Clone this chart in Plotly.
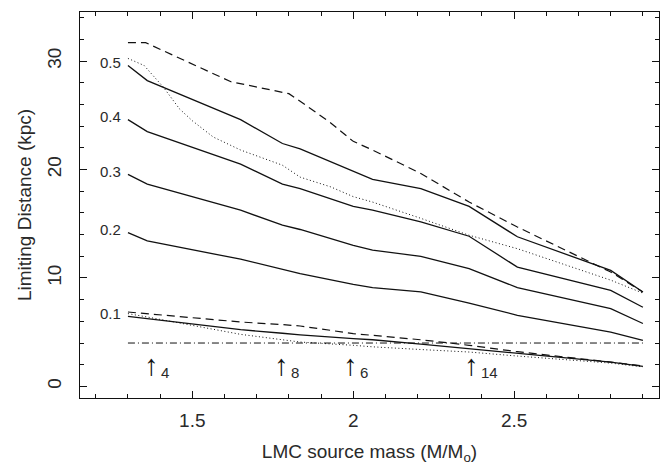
import plotly.graph_objects as go

# shared mass grid for the solid curves
mass = [1.30, 1.36, 1.65, 1.78, 1.835, 2.00, 2.06, 2.21, 2.36, 2.51, 2.80, 2.90]

solid_05 = [29.6, 28.2, 24.6, 22.4, 21.9, 19.8, 19.1, 18.25, 16.6, 13.8, 10.7, 8.7]
solid_04 = [24.6, 23.5, 20.5, 18.65, 18.25, 16.6, 16.25, 15.17, 13.85, 11.0, 8.86, 7.3]
solid_03 = [19.55, 18.65, 16.25, 14.87, 14.47, 13.0, 12.56, 12.0, 10.87, 9.11, 7.17, 5.8]
solid_02 = [14.19, 13.42, 11.73, 10.77, 10.4, 9.4, 9.11, 8.71, 7.69, 6.56, 5.01, 4.25]
solid_01 = [6.46, 6.25, 5.23, 4.9, 4.75, 4.4, 4.3, 3.9, 3.48, 3.0, 2.24, 1.85]
solid_labels = ["0.5", "0.4", "0.3", "0.2", "0.1"]

upper_dashed_x = [1.30, 1.355, 1.62, 1.80, 1.835, 1.93, 2.00, 2.06, 2.21, 2.36, 2.51, 2.80, 2.90]
upper_dashed_y = [31.7, 31.7, 28.1, 27.0, 26.3, 24.3, 22.6, 21.8, 19.64, 17.0, 14.7, 10.55, 8.7]

upper_dotted_x = [1.30, 1.35, 1.41, 1.46, 1.50, 1.565, 1.65, 1.78, 1.835, 1.93, 2.00, 2.06, 2.21, 2.36, 2.51, 2.80, 2.90]
upper_dotted_y = [30.25, 29.6, 27.6, 25.6, 24.5, 23.0, 21.8, 20.4, 19.3, 18.4, 17.5, 17.0, 15.5, 13.94, 12.7, 9.8, 8.6]

lower_dashed_y = [6.86, 6.7, 5.94, 5.7, 5.57, 4.87, 4.7, 4.3, 3.79, 3.2, 2.24, 1.9]
lower_dotted_y = [6.71, 6.4, 4.8, 4.31, 4.09, 3.79, 3.65, 3.4, 3.17, 2.8, 2.15, 1.8]

threshold_x = [1.30, 2.90]
threshold_y = [4.0, 4.0]

arrow_x = [1.374, 1.778, 1.992, 2.368]
arrow_labels = ["4", "8", "6", "14"]

INK = "#111111"
TXT = "#2a2a2a"
FONT = "Liberation Sans, Arial, sans-serif"

fig = go.Figure()

for ys in [solid_05, solid_04, solid_03, solid_02, solid_01]:
    fig.add_trace(go.Scatter(x=mass, y=ys, mode="lines",
                             line=dict(color=INK, width=1.3), showlegend=False))

fig.add_trace(go.Scatter(x=upper_dashed_x, y=upper_dashed_y, mode="lines",
                         line=dict(color=INK, width=1.2, dash="8px,5px"), showlegend=False))
fig.add_trace(go.Scatter(x=upper_dotted_x, y=upper_dotted_y, mode="lines",
                         line=dict(color=INK, width=1.0, dash="1px,2.5px"), showlegend=False))
fig.add_trace(go.Scatter(x=mass, y=lower_dashed_y, mode="lines",
                         line=dict(color=INK, width=1.2, dash="8px,5px"), showlegend=False))
fig.add_trace(go.Scatter(x=mass, y=lower_dotted_y, mode="lines",
                         line=dict(color=INK, width=1.0, dash="1px,2.5px"), showlegend=False))
fig.add_trace(go.Scatter(x=threshold_x, y=threshold_y, mode="lines",
                         line=dict(color=INK, width=1.0, dash="7px,3px,1px,3px"), showlegend=False))

annotations = []
for lab, ys in zip(solid_labels, [solid_05, solid_04, solid_03, solid_02, solid_01]):
    annotations.append(dict(x=mass[0], y=ys[0], text=lab, showarrow=False,
                            xanchor="right", yanchor="middle", xshift=-5, yshift=3,
                            font=dict(family=FONT, size=15, color=TXT)))

for ax_, lab in zip(arrow_x, arrow_labels):
    annotations.append(dict(x=ax_, y=1.95, text="↑", showarrow=False,
                            xanchor="center", yanchor="middle",
                            font=dict(family=FONT, size=29, color=INK)))
    annotations.append(dict(x=ax_, y=1.25, text=lab, showarrow=False,
                            xanchor="left", yanchor="middle", xshift=7,
                            font=dict(family=FONT, size=15, color=TXT)))

# the page body has an 8px default margin, so the figure is drawn 8px in
fig.update_layout(
    width=660, height=462,
    margin=dict(l=72, r=9, t=4, b=72),
    paper_bgcolor="white", plot_bgcolor="white",
    font=dict(family=FONT, size=17, color=TXT),
    annotations=annotations,
    showlegend=False,
)

fig.update_xaxes(
    range=[1.151, 2.950], showgrid=False, zeroline=False, automargin=False,
    showline=True, linecolor=INK, linewidth=1.2, mirror="allticks",
    ticks="inside", ticklen=7, tickwidth=1, tickcolor=INK,
    tickvals=[1.5, 2.0, 2.5], ticktext=["1.5", "2", "2.5"],
    tickfont=dict(family=FONT, size=19, color=TXT),
    ticklabelstandoff=5,
    minor=dict(dtick=0.1, tick0=1.0, ticks="inside", ticklen=4, tickcolor=INK, showgrid=False),
    title=dict(text="LMC source mass (M/M<sub>o</sub>)", standoff=14,
               font=dict(family=FONT, size=19, color=TXT)),
)

fig.update_yaxes(
    range=[-1.07, 34.53], showgrid=False, zeroline=False, automargin=False,
    showline=True, linecolor=INK, linewidth=1.2, mirror="allticks",
    ticks="inside", ticklen=7, tickwidth=1, tickcolor=INK,
    tickvals=[0, 10, 20, 30], tickangle=-90,
    tickfont=dict(family=FONT, size=19, color=TXT),
    ticklabelstandoff=10,
    minor=dict(dtick=2, tick0=0, ticks="inside", ticklen=4, tickcolor=INK, showgrid=False),
    title=dict(text="Limiting Distance (kpc)", standoff=7,
               font=dict(family=FONT, size=19, color=TXT)),
)

fig.write_html("out.html")
